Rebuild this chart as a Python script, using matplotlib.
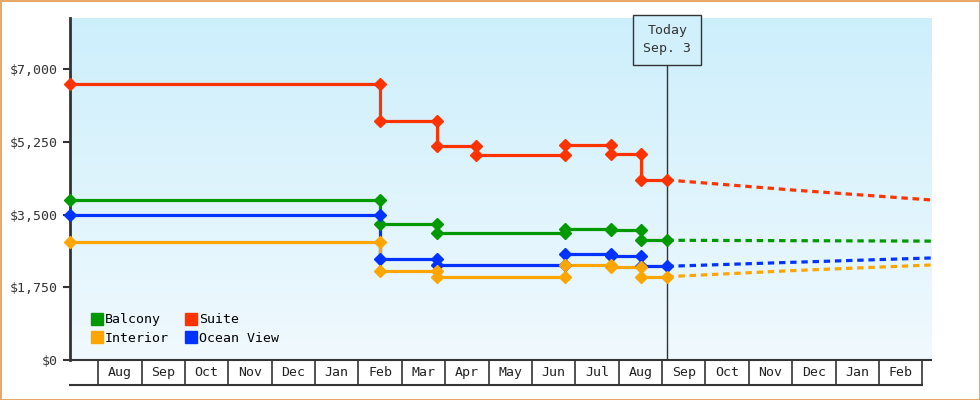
import numpy as np
import matplotlib.pyplot as plt
from matplotlib.lines import Line2D

# x positions in months, 0 = start of Aug (first year)
months = ["Aug", "Sep", "Oct", "Nov", "Dec", "Jan", "Feb", "Mar", "Apr", "May",
          "Jun", "Jul", "Aug", "Sep", "Oct", "Nov", "Dec", "Jan", "Feb"]
today_x = 13.12
x_start, x_end = -0.65, 19.2

# price history: change points (x) and level held from that point
suite_x = [x_start, 6.5, 7.82, 8.72, 10.77, 11.83, 12.52]
suite_y = [6640, 5740, 5140, 4920, 5180, 4950, 4330]
balcony_x = [x_start, 6.5, 7.82, 10.77, 11.83, 12.52]
balcony_y = [3850, 3260, 3050, 3160, 3130, 2880]
ocean_x = [x_start, 6.5, 7.82, 10.77, 11.83, 12.52]
ocean_y = [3480, 2420, 2285, 2550, 2494, 2254]
interior_x = [x_start, 6.5, 7.82, 10.77, 11.83, 12.52]
interior_y = [2830, 2134, 2004, 2278, 2230, 2004]

# forecast after today
fc_x = [today_x, 16.0, x_end]
suite_fc = [4330, 4090, 3850]
balcony_fc = [2880, 2870, 2860]
ocean_fc = [2254, 2350, 2454]
interior_fc = [2004, 2150, 2285]

yticks = [0, 1750, 3500, 5250, 7000]
ylabels = ["$0", "$1,750", "$3,500", "$5,250", "$7,000"]

colors = {"Balcony": "#009900", "Suite": "#ff3300", "Interior": "#ffa500", "Ocean View": "#0033ff"}
mono = "DejaVu Sans Mono"

fig = plt.figure(figsize=(9.8, 4.0), dpi=100)
fig.patch.set_facecolor("white")
fig.patch.set_edgecolor("#e8a866")
fig.patch.set_linewidth(2)
ax = fig.add_axes([70/980, 40/400, 861/980, 342/400])
ax.set_xlim(x_start, x_end)
ax.set_ylim(0, 8227)

# gradient background
grad = np.linspace(0, 1, 256).reshape(-1, 1, 1)
top = np.array([0xcd, 0xef, 0xfc]) / 255
bot = np.array([0xf0, 0xf9, 0xfe]) / 255
img = bot + (top - bot) * grad
ax.imshow(img[::-1], extent=[0, 1, 0, 1], transform=ax.transAxes, aspect="auto", zorder=0)


def step_series(xs, ys, color):
    px, py = [], []
    for i, (x, y) in enumerate(zip(xs, ys)):
        if i > 0:
            px.append(x); py.append(ys[i-1])
        px.append(x); py.append(y)
    px.append(today_x); py.append(ys[-1])
    ax.plot(px, py, color=color, lw=2.3, zorder=3, clip_on=False)
    ax.plot(px, py, ls="none", marker="D", ms=6.5, color=color, zorder=4, clip_on=False)


step_series(suite_x, suite_y, colors["Suite"])
step_series(balcony_x, balcony_y, colors["Balcony"])
step_series(ocean_x, ocean_y, colors["Ocean View"])
step_series(interior_x, interior_y, colors["Interior"])
for vals, name in [(suite_fc, "Suite"), (balcony_fc, "Balcony"), (ocean_fc, "Ocean View"), (interior_fc, "Interior")]:
    ax.plot(fc_x, vals, color=colors[name], lw=2.3, ls=(0, (2, 1.5)), zorder=3)

# today marker
ax.axvline(today_x, color="#333333", lw=1, zorder=2)
ax.text(today_x, 7700, "Today\nSep. 3", ha="center", va="center", fontsize=9.5, family=mono,
        color="#333333", linespacing=1.5,
        bbox=dict(boxstyle="square,pad=0.75", fc="#d2f0fc", ec="#333333", lw=1), zorder=5)

# axes styling
for s in ["top", "right", "bottom"]:
    ax.spines[s].set_visible(False)
ax.spines["left"].set_color("#333333")
ax.spines["left"].set_linewidth(2)
ax.set_yticks(yticks)
ax.set_yticklabels(ylabels, family=mono, fontsize=9.5, color="#333333")
ax.tick_params(axis="y", length=5, width=1.5, color="#333333")
ax.set_xticks([])

# month boxes under the axis
trans = ax.get_xaxis_transform()
yb = -25 / 342
ax.plot([x_start, x_end], [0, 0], color="#333333", lw=1.5, transform=trans, clip_on=False)
ax.plot([x_start, 19], [yb, yb], color="#333333", lw=1.5, transform=trans, clip_on=False)
for k in range(len(months) + 1):
    ax.plot([k, k], [0, yb], color="#333333", lw=1.2, transform=trans, clip_on=False)
for k, m in enumerate(months):
    ax.text(k + 0.5, yb / 2, m, ha="center", va="center", family=mono, fontsize=9.5,
            color="#222222", transform=trans, clip_on=False)

handles = [Line2D([], [], ls="none", marker="s", ms=8, color=colors[n]) for n in ["Balcony", "Interior", "Suite", "Ocean View"]]
ax.legend(handles, ["Balcony", "Interior", "Suite", "Ocean View"], ncol=2, loc="lower left",
          bbox_to_anchor=(0.01, 0.01), frameon=False, prop={"family": mono, "size": 9.5},
          handletextpad=0.1, columnspacing=1.2, labelspacing=0.4, handlelength=1)

fig.savefig("out.png", dpi=100, facecolor=fig.get_facecolor(), edgecolor=fig.get_edgecolor())
